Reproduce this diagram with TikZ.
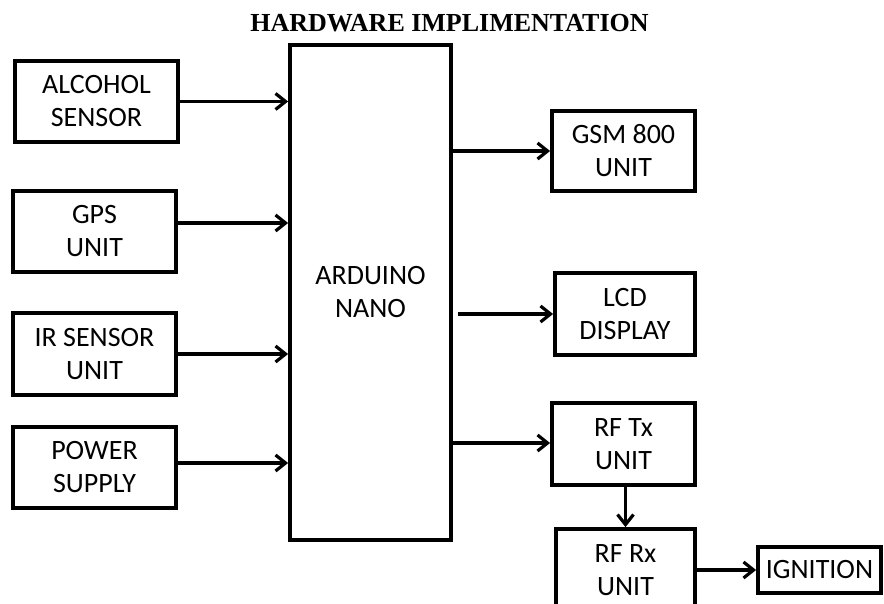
\documentclass[tikz,border=0pt]{standalone}
\usepackage{fontspec}
\setmainfont{Carlito}
\newfontfamily\titlefont{Liberation Serif}
\usetikzlibrary{arrows.meta,calc}
\tikzset{
  blk/.style={draw, line width=3.8pt, rectangle, inner sep=0pt, align=center,
    font=\fontsize{28}{33}\selectfont},
  conn/.style={line width=3.2pt, -{Straight Barb[length=10pt,width=16pt]}}
}
\begin{document}
\begin{tikzpicture}[x=1pt,y=-1pt]
\useasboundingbox (0,0) rectangle (884,604);
\node[anchor=base, font=\titlefont\bfseries\fontsize{26}{30}\selectfont] (title) at (449.5,32) {HARDWARE IMPLIMENTATION};

\node[blk, minimum width=163pt, minimum height=81pt] (alc) at (96.5,101.5) {ALCOHOL\\SENSOR};
\node[blk, minimum width=163pt, minimum height=81pt] (gps) at (94.5,231.5) {GPS\\UNIT};
\node[blk, minimum width=163pt, minimum height=82pt] (ir) at (94.5,354) {IR SENSOR\\UNIT};
\node[blk, minimum width=163pt, minimum height=81pt] (pwr) at (94.5,467.5) {POWER\\SUPPLY};

\node[blk, minimum width=161pt, minimum height=495pt] (ard) at (370.5,292.5) {ARDUINO\\NANO};

\node[blk, minimum width=143pt, minimum height=80pt] (gsm) at (623.5,151) {GSM 800\\UNIT};
\node[blk, minimum width=140pt, minimum height=82pt] (lcd) at (625,314) {LCD\\DISPLAY};
\node[blk, minimum width=143pt, minimum height=82pt] (rftx) at (623.5,444) {RF Tx\\UNIT};
\node[blk, minimum width=139pt, minimum height=82pt] (rfrx) at (625.5,570) {RF Rx\\UNIT};
\node[blk, minimum width=123pt, minimum height=46pt] (ign) at (819.5,570) {IGNITION};

\draw[conn] (alc.east) -- (alc.east -| ard.west);
\draw[conn] ([yshift=8.5pt]gps.east) -- ([yshift=8.5pt]gps.east -| ard.west);
\draw[conn] (ir.east) -- (ir.east -| ard.west);
\draw[conn] ([yshift=4.5pt]pwr.east) -- ([yshift=4.5pt]pwr.east -| ard.west);

\draw[conn] (gsm.west -| ard.east) -- (gsm.west);
\draw[conn] ([xshift=5pt]lcd.west -| ard.east) -- (lcd.west);
\draw[conn] ([yshift=1pt]rftx.west -| ard.east) -- ([yshift=1pt]rftx.west);
\draw[conn] (rfrx.north |- rftx.south) -- (rfrx.north);
\draw[conn] (rfrx.east) -- (ign.west);
\end{tikzpicture}
\end{document}
